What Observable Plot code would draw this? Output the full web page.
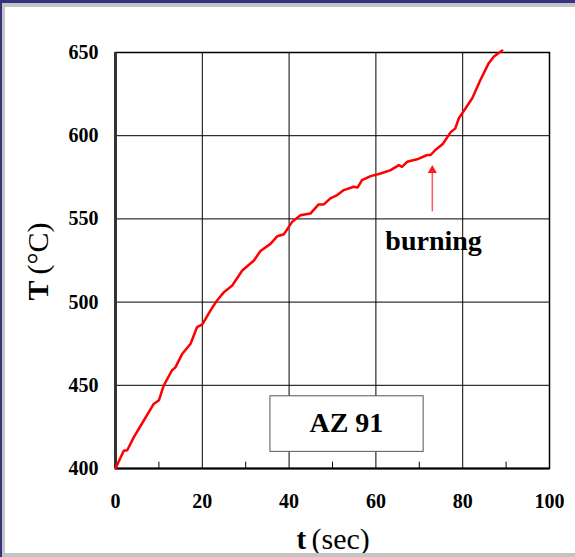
<!DOCTYPE html>
<html>
<head>
<meta charset="utf-8">
<script src="https://cdn.jsdelivr.net/npm/d3@7"></script>
<script src="https://cdn.jsdelivr.net/npm/@observablehq/plot@0.6"></script>
<style>
  html, body { margin: 0; padding: 0; background: #fff; }
  #wrap { position: relative; width: 575px; height: 557px; overflow: hidden; background: #fff; }
  #wrap svg { position: absolute; left: 0; top: 0; }
  .band { position: absolute; }
</style>
</head>
<body>
<div id="wrap">
  <div class="band" style="left:0;top:0;width:575px;height:7px;background:#c4c4c4"></div>
  <div class="band" style="left:0;top:0;width:5px;height:557px;background:#c4c4c4"></div>
  <div class="band" style="left:0;top:553px;width:575px;height:4px;background:#c4c4c4"></div>
  <div class="band" style="left:0;top:0;width:575px;height:3px;background:#34347e"></div>
  <div class="band" style="left:0;top:0;width:2px;height:557px;background:#34347e"></div>
</div>
<script>
// time (sec)
const time = [0, 1.9, 2.7, 4.2, 5.8, 8.8, 10, 11.1, 13.0, 13.8, 15.4, 17.3, 18.8, 20, 21.9, 23.4, 25, 26.9, 29.2, 31.9, 33.4, 35.7, 37.3, 38.8, 40.7, 42.6, 44.9, 46.8, 48, 49.5, 51.1, 52.6, 54.9, 55.8, 56.8, 58.8, 61.1, 63.4, 65.3, 66.0, 67.2, 69.5, 71.8, 72.6, 73.7, 75.4, 77.2, 78.3, 79.1, 79.9, 82.2, 84.1, 86, 87.2, 89.1];
// temperature (°C)
const temp = [400, 410.7, 411, 418.7, 425.7, 438.8, 441, 449.8, 458.9, 460.8, 469, 475, 485, 486.6, 495, 501, 506, 510, 519, 525, 530.7, 535, 539.6, 540.8, 548.2, 552.2, 553.2, 558.7, 558.7, 562.3, 564.3, 567.3, 569.3, 568.9, 573.3, 575.7, 577.3, 579.3, 582.3, 581.3, 584.3, 585.8, 588.4, 588.4, 591.4, 595, 602, 604.4, 610.5, 613.5, 622.5, 633.6, 643.6, 647.6, 651.2];

const xTicks = [0, 20, 40, 60, 80, 100];
const xMinor = [10, 30, 50, 70, 90];
const yTicks = [400, 450, 500, 550, 600, 650];
const gridX = [20, 40, 60, 80];
const gridY = [450, 500, 550, 600];

const sampleLabel = "AZ 91";
const eventLabel = "burning";
const eventTime = 73.0;

const data = time.map((t, i) => ({t, T: temp[i]}));
const font = "'Liberation Serif', 'Times New Roman', serif";

const chart = Plot.plot({
  width: 575,
  height: 557,
  marginLeft: 115,
  marginRight: 26,
  marginTop: 52,
  marginBottom: 89,
  style: {fontFamily: font, background: "transparent", color: "#000"},
  x: {domain: [0, 100], axis: null},
  y: {domain: [400, 650], axis: null},
  marks: [
    Plot.ruleX(gridX, {stroke: "#000", strokeWidth: 1}),
    Plot.ruleY(gridY, {stroke: "#000", strokeWidth: 1}),
    Plot.ruleX(xMinor, {y1: 400, y2: 403.8, stroke: "#000", strokeWidth: 1}),
    Plot.rect([{x1: 35.7, x2: 71.0, y1: 410.0, y2: 443.4}], {x1: "x1", x2: "x2", y1: "y1", y2: "y2", fill: "#fff", stroke: "#555", strokeWidth: 1}),
    Plot.text([sampleLabel], {x: 53.2, y: 427.2, fontSize: 28, fontWeight: "bold", fill: "#000", lineAnchor: "middle"}),
    Plot.frame({stroke: "#000", strokeWidth: 1.5}),
    Plot.ruleY([400], {stroke: "#000", strokeWidth: 2}),
    Plot.ruleX([0], {stroke: "#333", strokeWidth: 3}),
    Plot.line(data, {x: "t", y: "T", stroke: "#ff0000", strokeWidth: 2.5, curve: "linear"}),
    Plot.ruleX([eventTime], {y1: 554.2, y2: 577.7, stroke: "#ff5a5a", strokeWidth: 1.5}),
    Plot.dot([eventTime], {x: d => d, y: 579.2, symbol: "triangle", r: 3.4, fill: "#ff1a1a", stroke: "none"}),
    Plot.text([eventLabel], {x: 73.3, y: 536.4, fontSize: 28, fontWeight: "bold", fill: "#000", lineAnchor: "middle"}),
    Plot.axisY({ticks: yTicks, tickSize: 0, tickPadding: 17, fontSize: 20, fontWeight: "bold", fill: "#000", label: null}),
    Plot.axisX({ticks: xTicks, tickSize: 0, tickPadding: 25, fontSize: 20, fontWeight: "bold", fill: "#000", label: null}),
    Plot.text(["t"], {frameAnchor: "bottom", textAnchor: "start", lineAnchor: "bottom", dx: -36, dy: 80, fontSize: 29, fontWeight: "bold", fill: "#000"}),
    Plot.text(["(sec)"], {frameAnchor: "bottom", textAnchor: "start", lineAnchor: "bottom", dx: -21, dy: 80, fontSize: 30, fill: "#000"}),
    Plot.text(["T"], {frameAnchor: "left", textAnchor: "start", lineAnchor: "bottom", rotate: -90, dx: -68, dy: 40, fontSize: 30, fontWeight: "bold", fill: "#000"}),
    Plot.text(["(°C)"], {frameAnchor: "left", textAnchor: "start", lineAnchor: "bottom", rotate: -90, dx: -68, dy: 14, fontSize: 30, fill: "#000"})
  ]
});
document.getElementById("wrap").prepend(chart);
</script>
</body>
</html>
